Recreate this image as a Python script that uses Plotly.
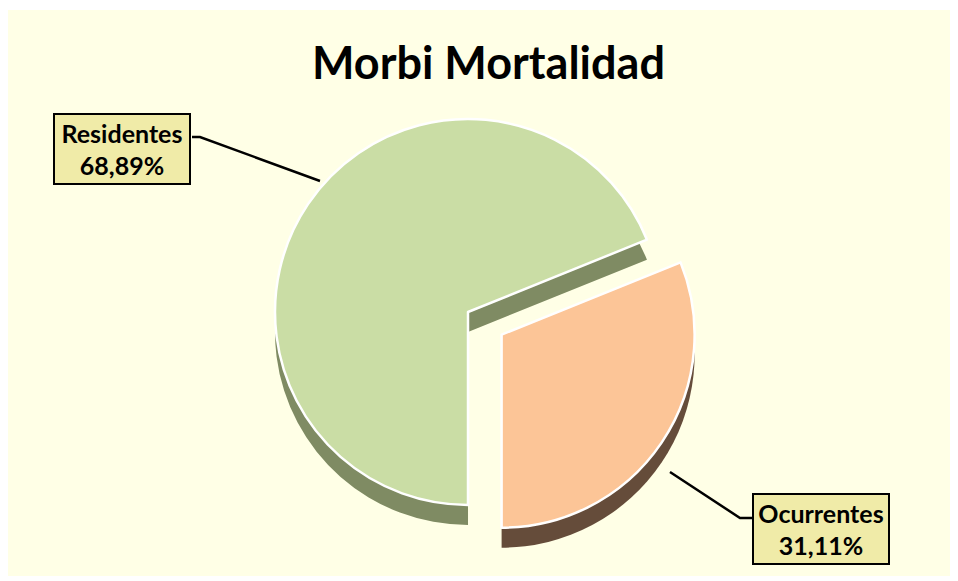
import plotly.graph_objects as go

# Data
categories = ["Ocurrentes", "Residentes"]
values = [31.11, 68.89]
top_colors = ["#FCC597", "#CADDA5"]
side_colors = ["#654C3A", "#7F8B63"]

# page body has an 8px margin; figure covers screen pixels 8..958 x 8..581
OFF = 8
W, H = 950, 573

def px(x):
    return (x - OFF) / W

def py(y):
    return 1 - (y - OFF) / H

total = sum(values)
pct_labels = [f"{v / total * 100:.2f}".replace(".", ",") + "%" for v in values]

# pie geometry (screen pixels)
cx, cy, r, pull = 468, 312, 193, 0.21
half = r * (1 + pull)
depth = 20

fig = go.Figure()

# depth (side) layer
fig.add_trace(go.Pie(
    labels=categories, values=values, sort=False, direction="clockwise",
    rotation=68, pull=[pull, 0], textinfo="none", hoverinfo="skip",
    marker=dict(colors=side_colors, line=dict(color="white", width=0)),
    domain=dict(x=[px(cx - half), px(cx + half)],
                y=[py(cy + depth + half), py(cy + depth - half)]),
    showlegend=False,
))
# top layer
fig.add_trace(go.Pie(
    labels=categories, values=values, sort=False, direction="clockwise",
    rotation=68, pull=[pull, 0], textinfo="none",
    marker=dict(colors=top_colors, line=dict(color="white", width=2.5)),
    domain=dict(x=[px(cx - half), px(cx + half)],
                y=[py(cy + half), py(cy - half)]),
    showlegend=False,
))

# background panel
shapes = [dict(type="rect", xref="paper", yref="paper",
               x0=px(8), x1=px(952), y0=py(576), y1=py(10),
               fillcolor="#FFFFE6", line=dict(width=0), layer="below")]

def path(points):
    return "M " + " L ".join(f"{px(a)},{py(b)}" for a, b in points)

shapes.append(dict(type="path", xref="paper", yref="paper",
                   path=path([(192, 137), (200, 137), (320, 181)]),
                   line=dict(color="black", width=2.5)))
shapes.append(dict(type="path", xref="paper", yref="paper",
                   path=path([(752, 518), (740, 518), (670, 472)]),
                   line=dict(color="black", width=2.5)))

label_pos = {"Residentes": (122, 149), "Ocurrentes": (821, 529)}
annotations = []
for cat, pl in zip(categories, pct_labels):
    x, y = label_pos[cat]
    annotations.append(dict(
        x=px(x), y=py(y), xref="paper", yref="paper",
        xanchor="center", yanchor="middle",
        text=f"<b>{cat}</b><br><b>{pl}</b>", showarrow=False,
        font=dict(family="Lato, 'Open Sans', sans-serif", size=25, color="black"),
        bgcolor="#F0EBA8", bordercolor="black", borderwidth=2, borderpad=2,
        width=130, height=64, align="center",
    ))

annotations.append(dict(
    x=px(489), y=py(62), xref="paper", yref="paper",
    xanchor="center", yanchor="middle",
    text="<b>Morbi Mortalidad</b>", showarrow=False,
    font=dict(family="Lato, 'Open Sans', sans-serif", size=45, color="black"),
))

fig.update_layout(
    width=W, height=H,
    margin=dict(l=0, r=0, t=0, b=0),
    paper_bgcolor="white",
    plot_bgcolor="white",
    shapes=shapes,
    annotations=annotations,
    showlegend=False,
)

fig.write_html("out.html")
